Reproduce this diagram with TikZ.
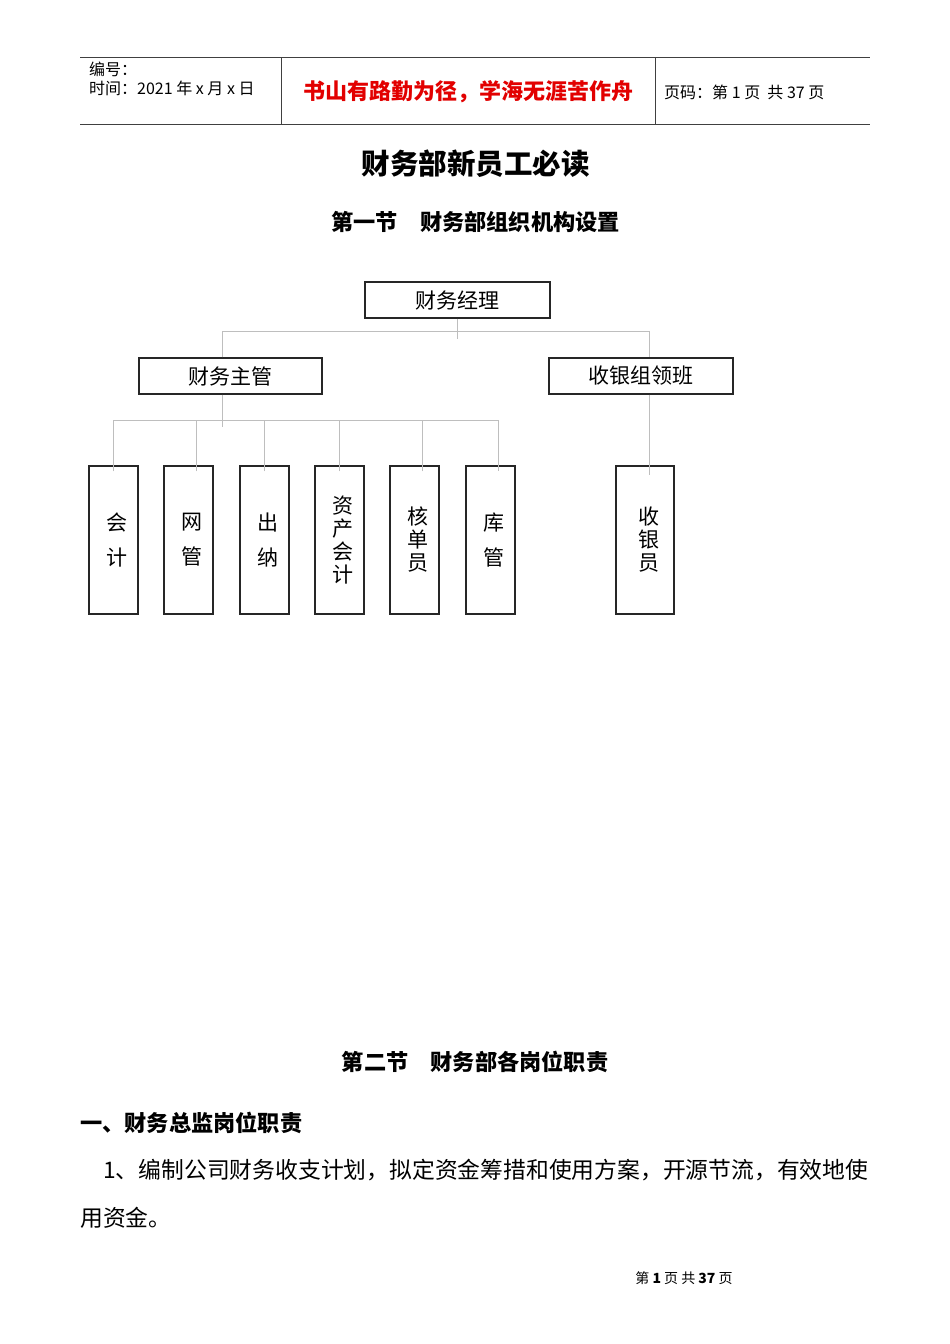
\documentclass[tikz,border=0pt]{standalone}
\usepackage{fontspec}
\setmainfont{Noto Sans CJK SC}
\usetikzlibrary{calc}
\definecolor{hred}{RGB}{226,0,0}
\definecolor{lgray}{RGB}{190,190,190}
\newcommand\vch[1]{\hspace*{7pt}#1}
\begin{document}
\begin{tikzpicture}[x=1pt,y=-1pt,
  txt/.style={inner sep=0pt},
  hdrline/.style={draw=black!75,line width=1pt},
  box/.style={draw=black!85,line width=1.2pt,fill=white,inner sep=0pt,font=\fontsize{21}{23}\selectfont},
  hbox/.style={box,minimum width=184pt,minimum height=36pt},
  vbox/.style={box,minimum width=49pt,minimum height=148pt,align=center},
  conn/.style={draw=lgray,line width=1pt}]
\useasboundingbox (0,0) rectangle (950,1344);
\fill[white] (0,0) rectangle (950,1344);
% header table
\draw[hdrline] (80,57) -- (870,57);
\draw[hdrline] (80,124) -- (870,124);
\draw[hdrline] (281,57) -- (281,124);
\draw[hdrline] (655,57) -- (655,124);
\node[txt,anchor=west,font=\fontsize{16}{18}\selectfont] (h1) at (89,69) {编号：};
\node[txt,anchor=west,font=\fontsize{16}{18}\selectfont] (h2) at (89,88) {时间：2021 年 x 月 x 日};
\node[txt,font=\fontsize{22}{24}\selectfont\bfseries,text=hred] (h3) at (468,92) {书山有路勤为径，学海无涯苦作舟};
\node[txt,anchor=west,font=\fontsize{16}{18}\selectfont] (h4) at (664,92) {页码：第 1 页\ \ 共 37 页};
% titles
\node[txt,font=\fontsize{28.5}{30}\selectfont\bfseries] (t1) at (475.5,164) {财务部新员工必读};
\node[txt,font=\fontsize{22.2}{24}\selectfont\bfseries] (t2) at (475.5,222) {第一节　财务部组织机构设置};
% org chart
\node[hbox,minimum width=185pt] (mgr) at (457.5,300) {财务经理};
\node[hbox,minimum width=183pt] (sup) at (230.5,376) {财务主管};
\node[hbox] (lead) at (641,376) {收银组领班};
\node[vbox] (n1) at (113.5,540) {\vch{会}\\[12pt]\vch{计}};
\node[vbox] (n2) at (188.5,540) {\vch{网}\\[12pt]\vch{管}};
\node[vbox] (n3) at (264.5,540) {\vch{出}\\[12pt]\vch{纳}};
\node[vbox] (n4) at (339.5,540) {\vch{资}\\\vch{产}\\\vch{会}\\\vch{计}};
\node[vbox] (n5) at (414.5,540) {\vch{核}\\\vch{单}\\\vch{员}};
\node[vbox] (n6) at (490.5,540) {\vch{库}\\[12pt]\vch{管}};
\node[vbox,minimum width=58pt] (n7) at (645,540) {\vch{收}\\\vch{银}\\\vch{员}};
% connectors
\draw[conn] (mgr.south) -- ++(0,20);
\draw[conn] ($(sup.north)+(-8,0)$) -- ($(sup.north)+(-8,-26)$) -- ($(lead.north)+(8,-26)$) -- ($(lead.north)+(8,0)$);
\draw[conn] ($(sup.south)+(-8,0)$) -- ++(0,32);
\draw[conn] ($(n1.north)+(0,6)$) -- ++(0,-51) -| ($(n6.north)+(8,6)$);
\draw[conn] ($(n2.north)+(8,6)$) -- ++(0,-51);
\draw[conn] ($(n3.north)+(0,6)$) -- ++(0,-51);
\draw[conn] ($(n4.north)+(0,6)$) -- ++(0,-51);
\draw[conn] ($(n5.north)+(8,6)$) -- ++(0,-51);
\draw[conn] ($(lead.south)+(8,0)$) -- ($(n7.north)+(4,10)$);
% section 2
\node[txt,font=\fontsize{22.2}{24}\selectfont\bfseries] (s2) at (475,1062) {第二节　财务部各岗位职责};
\node[txt,anchor=west,font=\fontsize{22.2}{24}\selectfont\bfseries] (s3) at (80,1123) {一、财务总监岗位职责};
\node[txt,anchor=west,font=\fontsize{22.8}{24}\selectfont] (p1) at (103,1170) {1、编制公司财务收支计划，拟定资金筹措和使用方案，开源节流，有效地使};
\node[txt,anchor=west,font=\fontsize{22.8}{24}\selectfont] (p2) at (80,1218) {用资金。};
\node[txt,font=\fontsize{14}{16}\selectfont] (ft) at (684,1278) {第\ \textbf{1}\ 页\ 共\ \textbf{37}\ 页};
\end{tikzpicture}
\end{document}
